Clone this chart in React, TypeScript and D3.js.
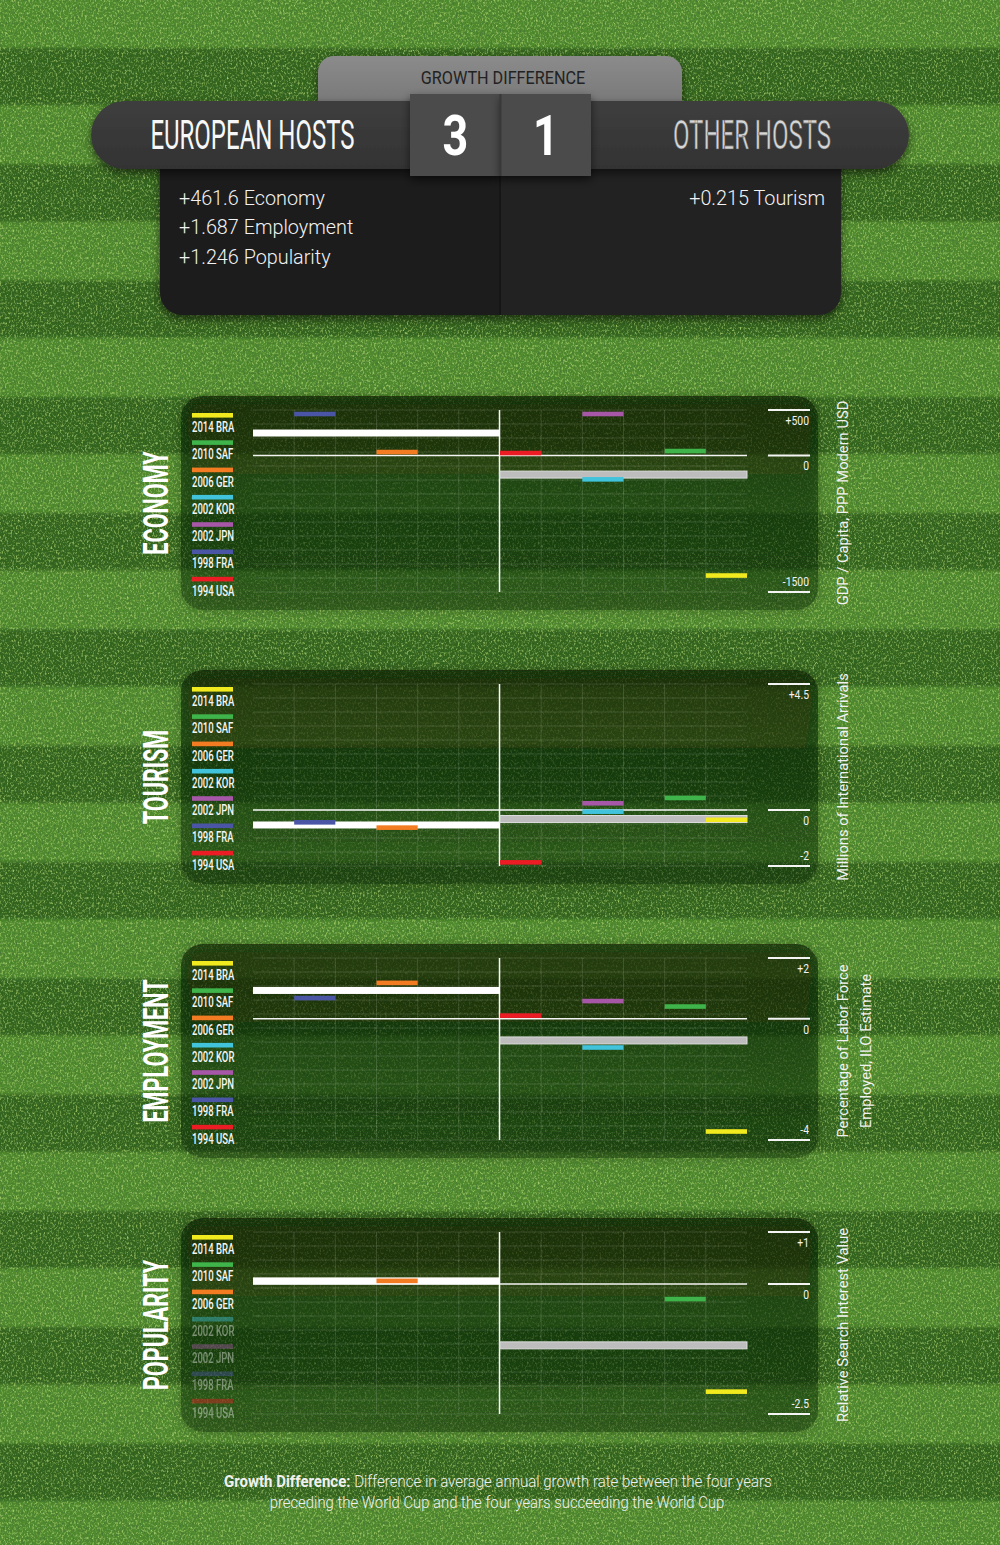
import { useEffect, useRef } from "react";
import * as d3 from "d3";

// World Cup hosts, chronological
const hostCodes = ["USA", "FRA", "JPN", "KOR", "GER", "SAF", "BRA"];
const hostYears = [1994, 1998, 2002, 2002, 2006, 2010, 2014];
const hostGroups = ["other", "europe", "other", "other", "europe", "other", "other"];
const hostColors = ["#ec1c24", "#4b55a5", "#a757a8", "#41c3dc", "#f37b21", "#3fb44a", "#f1ea1e"];
const legendOrder = ["BRA", "SAF", "GER", "KOR", "JPN", "FRA", "USA"];

// growth difference per host (same order as hostCodes)
const metricNames = ["ECONOMY", "TOURISM", "EMPLOYMENT", "POPULARITY"];
const economyValues = [27, 456, 456, -262, 38, 49, -1319];
const tourismValues = [-1.87, -0.44, 0.24, -0.06, -0.63, 0.43, -0.35];
const employmentValues = [0.1, 0.68, 0.58, -0.95, 1.18, 0.4, -3.72];
const popularityValues = [null, null, null, null, 0.06, -0.29, -2.07];
const axisMins = [-1500, -2, -4, -2.5];
const axisMaxs = [500, 4.5, 2, 1];
const tickLabels = [
  ["+500", "0", "-1500"],
  ["+4.5", "0", "-2"],
  ["+2", "0", "-4"],
  ["+1", "0", "-2.5"],
];
const axisTitles = [
  ["GDP / Capita, PPP Modern USD"],
  ["Millions of International Arrivals"],
  ["Percentage of Labor Force", "Employed, ILO Estimate"],
  ["Relative Search Interest Value"],
];

const headerTitle = "GROWTH DIFFERENCE";
const teamNames = ["EUROPEAN HOSTS", "OTHER HOSTS"];
const scores = ["3", "1"];
const europeWins = ["+461.6 Economy", "+1.687 Employment", "+1.246 Popularity"];
const otherWins = ["+0.215 Tourism"];
const footnoteBold = "Growth Difference:";
const footnoteLines = [
  " Difference in average annual growth rate between the four years",
  "preceding the World Cup and the four years succeeding the World Cup",
];

const W = 1000;
const H = 1545;
const FONT = "Roboto, 'DejaVu Sans', sans-serif";

// squeeze text horizontally (around its anchor) to mimic the condensed face of the original
const condense = (sel: any, k: number) => {
  sel.each(function (this: SVGTextElement) {
    const prev = this.getAttribute("transform");
    if (prev) {
      this.setAttribute("transform", `${prev} scale(${k},1)`);
    } else {
      const x = +(this.getAttribute("x") || 0);
      this.setAttribute("transform", `translate(${x},0) scale(${k},1) translate(${-x},0)`);
    }
  });
};

const App = () => {
  const ref = useRef<SVGSVGElement>(null);

  useEffect(() => {
    draw();
  }, []);

  const draw = () => {
    const svg = d3.select(ref.current);
    svg.selectAll("*").remove();
    const defs = svg.append("defs");

    // ---------- filters / gradients
    const grass = defs
      .append("filter")
      .attr("id", "grass")
      .attr("filterUnits", "userSpaceOnUse")
      .attr("x", 0)
      .attr("y", 0)
      .attr("width", W)
      .attr("height", H);
    grass
      .append("feTurbulence")
      .attr("type", "fractalNoise")
      .attr("baseFrequency", "0.55 0.4")
      .attr("numOctaves", 3)
      .attr("seed", 7)
      .attr("result", "noise");
    grass
      .append("feColorMatrix")
      .attr("in", "noise")
      .attr("type", "matrix")
      .attr("values", "0 0 0 0 0.55  0 0 0 0 0.8  0 0 0 0 0.22  2.6 0 0 0 -1.3")
      .attr("result", "light");
    grass
      .append("feColorMatrix")
      .attr("in", "noise")
      .attr("type", "matrix")
      .attr("values", "0 0 0 0 0.06  0 0 0 0 0.16  0 0 0 0 0.04  0 2.8 0 0 -1.35")
      .attr("result", "dark");
    const merge = grass.append("feMerge");
    merge.append("feMergeNode").attr("in", "dark");
    merge.append("feMergeNode").attr("in", "light");

    const blur = defs.append("filter").attr("id", "soft").attr("x", "-5%").attr("y", "-50%").attr("width", "110%").attr("height", "200%");
    blur.append("feGaussianBlur").attr("stdDeviation", "0 1.5");

    const shadow = defs.append("filter").attr("id", "shadow").attr("x", "-10%").attr("y", "-20%").attr("width", "120%").attr("height", "150%");
    shadow
      .append("feDropShadow")
      .attr("dx", 0)
      .attr("dy", 4)
      .attr("stdDeviation", 5)
      .attr("flood-color", "#000")
      .attr("flood-opacity", 0.55);

    const panelShadow = defs.append("filter").attr("id", "panelShadow").attr("x", "-10%").attr("y", "-20%").attr("width", "120%").attr("height", "140%");
    panelShadow
      .append("feDropShadow")
      .attr("dx", 0)
      .attr("dy", 2)
      .attr("stdDeviation", 6)
      .attr("flood-color", "#0a1a05")
      .attr("flood-opacity", 0.5);

    const panelGrad = defs.append("linearGradient").attr("id", "panelGrad").attr("x1", 0).attr("y1", 0).attr("x2", 0).attr("y2", 1);
    panelGrad.append("stop").attr("offset", "0%").attr("stop-color", "#0b1905").attr("stop-opacity", 0.6);
    panelGrad.append("stop").attr("offset", "100%").attr("stop-color", "#0b1905").attr("stop-opacity", 0.32);

    const tabGrad = defs.append("linearGradient").attr("id", "tabGrad").attr("x1", 0).attr("y1", 0).attr("x2", 0).attr("y2", 1);
    tabGrad.append("stop").attr("offset", "0%").attr("stop-color", "#8b8b8b");
    tabGrad.append("stop").attr("offset", "100%").attr("stop-color", "#6c6c6c");

    const barGrad = defs.append("linearGradient").attr("id", "barGrad").attr("x1", 0).attr("y1", 0).attr("x2", 0).attr("y2", 1);
    barGrad.append("stop").attr("offset", "0%").attr("stop-color", "#3e3e3e");
    barGrad.append("stop").attr("offset", "100%").attr("stop-color", "#333333");

    // ---------- grass background
    svg.append("rect").attr("width", W).attr("height", H).attr("fill", "#508a2e");
    const stripeY = d3.range(14).map((k) => 48 + k * 116.3);
    svg
      .append("g")
      .attr("filter", "url(#soft)")
      .selectAll("rect")
      .data(stripeY)
      .join("rect")
      .attr("x", -20)
      .attr("width", W + 40)
      .attr("y", (d) => d)
      .attr("height", 57)
      .attr("fill", "#33631f");
    svg
      .append("rect")
      .attr("width", W)
      .attr("height", H)
      .attr("filter", "url(#grass)")
      .attr("opacity", 0.75);

    // ---------- scoreboard header
    const hdr = svg.append("g");
    hdr
      .append("rect")
      .attr("x", 318)
      .attr("y", 56)
      .attr("width", 364)
      .attr("height", 80)
      .attr("rx", 16)
      .attr("fill", "url(#tabGrad)")
      .attr("filter", "url(#shadow)");

    const clip = defs.append("clipPath").attr("id", "boxClip");
    clip.append("rect").attr("x", 160).attr("y", 130).attr("width", 681).attr("height", 185).attr("rx", 22);
    const box = hdr.append("g").attr("filter", "url(#shadow)");
    const boxInner = box.append("g").attr("clip-path", "url(#boxClip)");
    boxInner.append("rect").attr("x", 160).attr("y", 130).attr("width", 341).attr("height", 185).attr("fill", "#1c1c1c");
    boxInner.append("rect").attr("x", 501).attr("y", 130).attr("width", 340).attr("height", 185).attr("fill", "#222222");
    boxInner.append("line").attr("x1", 500).attr("x2", 500).attr("y1", 130).attr("y2", 315).attr("stroke", "#141414").attr("stroke-width", 2);

    hdr
      .append("rect")
      .attr("x", 91)
      .attr("y", 101)
      .attr("width", 818)
      .attr("height", 68)
      .attr("rx", 34)
      .attr("fill", "url(#barGrad)")
      .attr("filter", "url(#shadow)");

    const scoreX = d3.scaleBand<number>().domain([0, 1]).range([410, 591]);
    const scoreG = hdr.append("g");
    scoreG
      .selectAll("rect")
      .data(scores)
      .join("rect")
      .attr("x", (_d, i) => scoreX(i)!)
      .attr("y", 94)
      .attr("width", scoreX.bandwidth())
      .attr("height", 82)
      .attr("fill", "#4b4b4b")
      .attr("filter", "url(#shadow)");
    scoreG.append("line").attr("x1", 500.5).attr("x2", 500.5).attr("y1", 94).attr("y2", 176).attr("stroke", "#393939").attr("stroke-width", 2);
    scoreG
      .selectAll("text")
      .data(scores)
      .join("text")
      .attr("x", (_d, i) => scoreX(i)! + scoreX.bandwidth() / 2)
      .attr("y", 155)
      .attr("text-anchor", "middle")
      .attr("font-family", FONT)
      .attr("font-weight", 700)
      .attr("font-size", 56)
      .attr("fill", "#ffffff")
      .text((d) => d)
      .call(condense, 0.8);

    hdr
      .append("text")
      .attr("x", 503)
      .attr("y", 84)
      .attr("text-anchor", "middle")
      .attr("font-family", FONT)
      .attr("font-size", 18)
      .attr("fill", "#222")
      .text(headerTitle)
      .call(condense, 0.9);

    hdr
      .selectAll("text.team")
      .data(teamNames)
      .join("text")
      .attr("class", "team")
      .attr("x", (_d, i) => (i === 0 ? 252.5 : 752))
      .attr("y", 149)
      .attr("text-anchor", "middle")
      .attr("font-family", FONT)
      .attr("font-size", 40)
      .attr("fill", (_d, i) => (i === 0 ? "#f7f7f7" : "#d6d6d6"))
      .attr("stroke", (_d, i) => (i === 0 ? "none" : "#555"))
      .attr("stroke-width", 0.6)
      .text((d) => d)
      .call(condense, 0.6);

    hdr
      .selectAll("text.ewin")
      .data(europeWins)
      .join("text")
      .attr("class", "ewin")
      .attr("x", 179)
      .attr("y", (_d, i) => 205 + i * 29.5)
      .attr("font-family", FONT)
      .attr("font-weight", 300)
      .attr("font-size", 20)
      .attr("fill", "#f2f2f2")
      .text((d) => d)
      .call(condense, 0.99);
    hdr
      .selectAll("text.owin")
      .data(otherWins)
      .join("text")
      .attr("class", "owin")
      .attr("x", 825)
      .attr("y", (_d, i) => 205 + i * 29.5)
      .attr("text-anchor", "end")
      .attr("font-family", FONT)
      .attr("font-weight", 300)
      .attr("font-size", 20)
      .attr("fill", "#f2f2f2")
      .text((d) => d)
      .call(condense, 0.99);

    // ---------- metric panels
    const metricValues = [economyValues, tourismValues, employmentValues, popularityValues];
    const years = Array.from(new Set(hostYears));
    const half = d3.scaleBand<number>().domain(years).range([0, 247]);
    const halfLeft: Record<string, number> = { europe: 253, other: 500 };
    const plotL = 253;
    const plotR = 747;

    metricNames.forEach((name, m) => {
      const top = 396 + m * 274;
      const plotTop = top + 14;
      const plotBottom = top + 196;
      const values = metricValues[m];
      const g = svg.append("g");

      g.append("rect")
        .attr("x", 181)
        .attr("y", top)
        .attr("width", 637)
        .attr("height", 214)
        .attr("rx", 22)
        .attr("fill", "url(#panelGrad)")
        .attr("filter", "url(#panelShadow)");

      const y = d3.scaleLinear().domain([axisMins[m], axisMaxs[m]]).range([plotBottom, plotTop]);

      // faint grid
      const grid = g.append("g").attr("stroke", "#ffffff").attr("stroke-opacity", 0.13).attr("stroke-width", 1);
      grid
        .selectAll("line.h")
        .data(d3.range(14))
        .join("line")
        .attr("class", "h")
        .attr("x1", plotL)
        .attr("x2", plotR)
        .attr("y1", (k) => plotTop + (k * (plotBottom - plotTop)) / 13)
        .attr("y2", (k) => plotTop + (k * (plotBottom - plotTop)) / 13);
      grid
        .selectAll("line.v")
        .data(d3.range(1, 12))
        .join("line")
        .attr("class", "v")
        .attr("x1", (k) => plotL + (k * (plotR - plotL)) / 12)
        .attr("x2", (k) => plotL + (k * (plotR - plotL)) / 12)
        .attr("y1", plotTop)
        .attr("y2", plotBottom);

      // zero and centre lines
      g.append("line").attr("x1", plotL).attr("x2", plotR).attr("y1", y(0)).attr("y2", y(0)).attr("stroke", "#f4f4f4").attr("stroke-width", 1.5);
      g.append("line").attr("x1", 499.5).attr("x2", 499.5).attr("y1", plotTop).attr("y2", plotBottom).attr("stroke", "#f4f4f4").attr("stroke-width", 1.5);

      // group averages
      const rows = hostCodes.map((code, i) => ({ code, year: hostYears[i], group: hostGroups[i], color: hostColors[i], value: values[i] }));
      const withData = rows.filter((r) => r.value !== null);
      const avg = ["europe", "other"].map((grp) => ({
        group: grp,
        value: d3.mean(withData.filter((r) => r.group === grp), (r) => r.value as number) as number,
      }));
      g.selectAll("rect.avg")
        .data(avg)
        .join("rect")
        .attr("class", "avg")
        .attr("x", (d) => halfLeft[d.group])
        .attr("width", 247)
        .attr("y", (d) => y(d.value) - 3.5)
        .attr("height", 7)
        .attr("fill", (d) => (d.group === "europe" ? "#ffffff" : "#bdbdbd"))
        .attr("stroke", (d) => (d.group === "europe" ? "none" : "#dcdcdc"))
        .attr("stroke-width", 1);

      // host bars
      g.selectAll("rect.host")
        .data(withData)
        .join("rect")
        .attr("class", "host")
        .attr("x", (d) => halfLeft[d.group] + half(d.year)!)
        .attr("width", half.bandwidth())
        .attr("y", (d) => y(d.value as number) - 2.3)
        .attr("height", 4.6)
        .attr("fill", (d) => d.color);

      // legend
      const legend = g.append("g");
      const legendItems = legendOrder.map((code) => {
        const i = hostCodes.indexOf(code);
        return { label: `${hostYears[i]} ${code}`, color: hostColors[i], active: values[i] !== null };
      });
      const li = legend
        .selectAll("g")
        .data(legendItems)
        .join("g")
        .attr("transform", (_d, k) => `translate(192,${top + 17 + k * 27.3})`)
        .attr("opacity", (d) => (d.active ? 1 : 0.42));
      li.append("rect").attr("width", 41).attr("height", 4.6).attr("fill", (d) => d.color);
      li.append("text")
        .attr("x", 0)
        .attr("y", 19)
        .attr("font-family", FONT)
        .attr("font-weight", 500)
        .attr("font-size", 14)
        .attr("fill", "#f6f6f6")
        .text((d) => d.label)
        .call(condense, 0.68);

      // metric title
      g.append("text")
        .attr("transform", `translate(155,${top + 107}) rotate(-90)`)
        .attr("text-anchor", "middle")
        .attr("dominant-baseline", "central")
        .attr("font-family", FONT)
        .attr("font-weight", 700)
        .attr("font-size", 36)
        .attr("fill", "#ffffff")
        .text(name)
        .call(condense, 0.6);

      // right scale
      const ticks = [axisMaxs[m], 0, axisMins[m]];
      g.selectAll("line.tick")
        .data(ticks)
        .join("line")
        .attr("class", "tick")
        .attr("x1", 768)
        .attr("x2", 810)
        .attr("y1", (d) => y(d))
        .attr("y2", (d) => y(d))
        .attr("stroke", "#f4f4f4")
        .attr("stroke-width", 2);
      g.selectAll("text.tick")
        .data(ticks)
        .join("text")
        .attr("class", "tick")
        .attr("x", 809)
        .attr("y", (d, k) => (k === 2 ? y(d) - 6 : y(d) + 15))
        .attr("text-anchor", "end")
        .attr("font-family", FONT)
        .attr("font-size", 13)
        .attr("fill", "#f2f2f2")
        .text((_d, k) => tickLabels[m][k])
        .call(condense, 0.8);

      // axis title
      const titles = axisTitles[m];
      g.selectAll("text.atitle")
        .data(titles)
        .join("text")
        .attr("class", "atitle")
        .attr("transform", (_d, k) => `translate(${843 + k * 22.5},${top + 107}) rotate(-90)`)
        .attr("text-anchor", "middle")
        .attr("dominant-baseline", "central")
        .attr("font-family", FONT)
        .attr("font-weight", 400)
        .attr("font-size", 15.5)
        .attr("fill", "#f2f2f2")
        .text((d) => d)
        .call(condense, 0.95);
    });

    // ---------- footnote
    const foot = svg.append("g").attr("font-family", FONT).attr("font-size", 16).attr("fill", "#f0f0f0");
    const f1 = foot.append("text").attr("x", 224).attr("y", 1487).attr("font-weight", 300);
    f1.append("tspan").attr("font-weight", 700).text(footnoteBold);
    f1.append("tspan").text(footnoteLines[0]);
    const f1Len = (f1.node() as SVGTextElement).getComputedTextLength();
    f1.call(condense, 548 / f1Len);
    foot
      .append("text")
      .attr("x", 497)
      .attr("y", 1508)
      .attr("text-anchor", "middle")
      .attr("font-weight", 300)
      .text(footnoteLines[1])
      .call(condense, 0.93);
  };

  return (
    <svg
      ref={ref}
      width={W}
      height={H}
      style={{ position: "absolute", left: 0, top: 0, display: "block" }}
    ></svg>
  );
};

export default App;
